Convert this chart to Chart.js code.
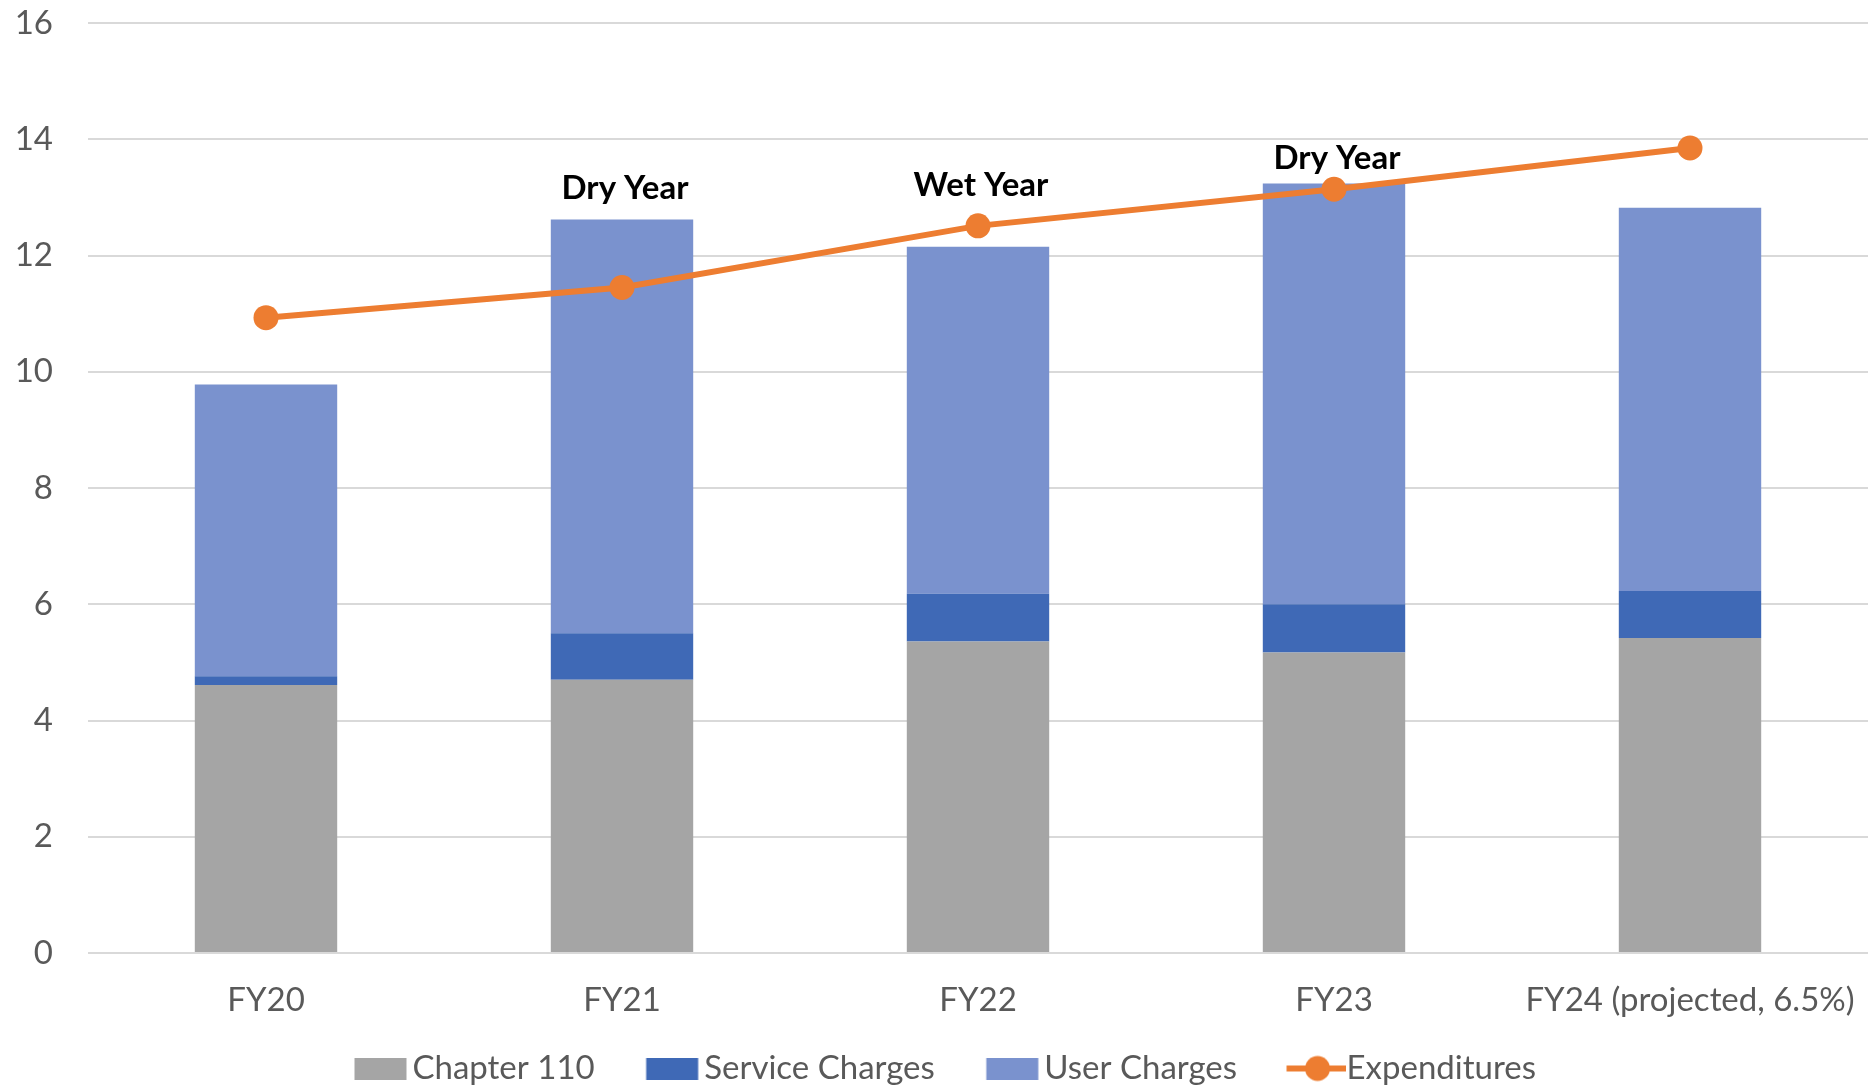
<!DOCTYPE html>
<html>
<head>
<meta charset="utf-8">
<script src="https://cdn.jsdelivr.net/npm/chart.js@4.4.1/dist/chart.umd.min.js"></script>
<style>
  html, body { margin: 0; padding: 0; background: #fff; }
  #chart { display: block; }
</style>
</head>
<body>
<canvas id="chart" width="1870" height="1088"></canvas>
<script>
// data
const years = ['FY20', 'FY21', 'FY22', 'FY23', 'FY24 (projected, 6.5%)'];
const chapter110 = [4.61, 4.70, 5.36, 5.17, 5.42];
const serviceCharges = [0.15, 0.80, 0.82, 0.83, 0.81];
const userCharges = [5.02, 7.12, 5.97, 7.24, 6.59];
const expenditures = [10.93, 11.45, 12.51, 13.14, 13.85];
// notes above the bars
const yearNotes = ['', 'Dry Year', 'Wet Year', 'Dry Year', ''];
const noteLevels = [null, 13.15, 13.2, 13.67, null];

const GRAY = '#A5A5A5';
const DARK_BLUE = '#3F69B6';
const LIGHT_BLUE = '#7A92CE';
const ORANGE = '#ED7D31';

// legend icon geometry: canvas is centred on the point style slot
const LEGEND_PW = 64;
const ICON_CANVAS = 96;
const RECT_X = 38.5;
const RECT_W = 52;

Chart.defaults.font.family = 'Lato, "Noto Sans", sans-serif';
Chart.defaults.font.size = 33;
Chart.defaults.color = '#595959';

// legend icons
function boxIcon(color) {
    const c = document.createElement('canvas');
    c.width = ICON_CANVAS;
    c.height = 22;
    const g = c.getContext('2d');
    g.fillStyle = color;
    g.fillRect(RECT_X, 0, RECT_W, 22);
    return c;
}

function lineIcon(color) {
    const c = document.createElement('canvas');
    c.width = ICON_CANVAS;
    c.height = 28;
    const g = c.getContext('2d');
    g.strokeStyle = color;
    g.lineWidth = 6;
    g.beginPath();
    g.moveTo(RECT_X - 2, 14);
    g.lineTo(RECT_X + RECT_W + 8, 14);
    g.stroke();
    g.fillStyle = color;
    g.beginPath();
    g.arc(RECT_X + RECT_W / 2 + 3, 14, 12.5, 0, Math.PI * 2);
    g.fill();
    return c;
}

const legendIcons = [boxIcon(GRAY), boxIcon(DARK_BLUE), boxIcon(LIGHT_BLUE), lineIcon(ORANGE)];

// 年份标注 (Dry Year / Wet Year)
const notesPlugin = {
    id: 'yearNotes',
    afterDatasetsDraw(chart) {
        const {ctx, scales: {x, y}} = chart;
        ctx.save();
        ctx.font = 'bold 33px Lato, "Noto Sans", sans-serif';
        ctx.fillStyle = '#000';
        ctx.textAlign = 'center';
        ctx.textBaseline = 'middle';
        yearNotes.forEach((text, i) => {
            if (!text) return;
            ctx.fillText(text, x.getPixelForValue(i) + 3, y.getPixelForValue(noteLevels[i]));
        });
        ctx.restore();
    }
};

const ctx = document.getElementById('chart').getContext('2d');
const chart = new Chart(ctx, {
    type: 'bar',
    data: {
        labels: years,
        datasets: [{
            label: 'Chapter 110',
            data: chapter110,
            backgroundColor: GRAY,
            order: 1
        }, {
            label: 'Service Charges',
            data: serviceCharges,
            backgroundColor: DARK_BLUE,
            order: 2
        }, {
            label: 'User Charges',
            data: userCharges,
            backgroundColor: LIGHT_BLUE,
            order: 3
        }, {
            type: 'line',
            label: 'Expenditures',
            data: expenditures,
            borderColor: ORANGE,
            backgroundColor: ORANGE,
            borderWidth: 6,
            pointRadius: 12.5,
            pointBorderWidth: 0,
            stack: 'exp',
            order: 0
        }]
    },
    options: {
        responsive: false,
        devicePixelRatio: 1,
        animation: false,
        layout: {autoPadding: false, padding: {left: 0, right: 2, top: 23, bottom: -7}},
        datasets: {
            bar: {categoryPercentage: 1, barPercentage: 0.4}
        },
        scales: {
            x: {
                stacked: true,
                grid: {display: false, drawTicks: false},
                border: {display: false},
                ticks: {padding: 8, maxRotation: 0, autoSkip: false, font: {lineHeight: 2.4}},
                afterFit: (scale) => {
                    scale.paddingLeft = 0;
                    scale.paddingRight = 0;
                    scale.height = 70;
                }
            },
            y: {
                stacked: true,
                min: 0,
                max: 16,
                ticks: {stepSize: 2, padding: 35},
                grid: {color: '#D9D9D9', lineWidth: 2, drawTicks: false},
                border: {display: false},
                afterFit: (scale) => {
                    scale.width = 88;
                    scale.paddingTop = 0;
                    scale.paddingBottom = 0;
                }
            }
        },
        plugins: {
            tooltip: {enabled: false},
            legend: {
                position: 'bottom',
                labels: {
                    usePointStyle: true,
                    pointStyleWidth: LEGEND_PW,
                    boxHeight: 22,
                    padding: 29,
                    color: '#595959',
                    sort: (a, b) => a.datasetIndex - b.datasetIndex,
                    generateLabels: (chart) => {
                        const items = Chart.defaults.plugins.legend.labels.generateLabels(chart);
                        items.forEach(item => { item.pointStyle = legendIcons[item.datasetIndex]; });
                        return items;
                    }
                }
            }
        }
    },
    plugins: [notesPlugin]
});
</script>
</body>
</html>
